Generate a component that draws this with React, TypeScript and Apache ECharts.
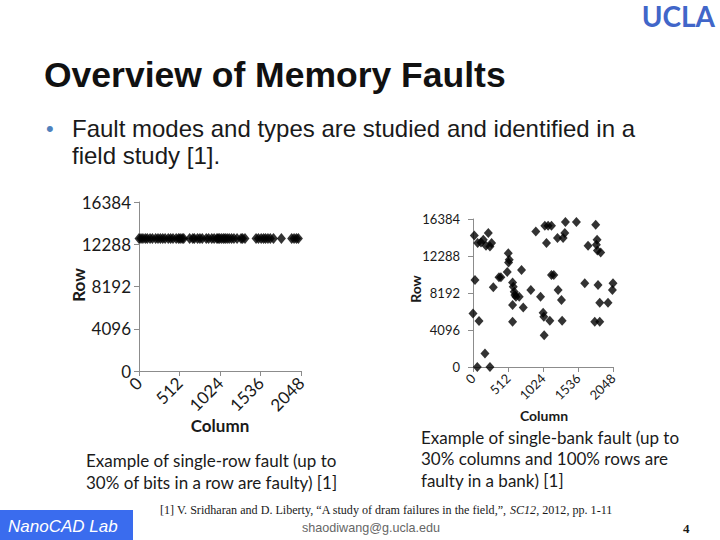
import React, { useEffect, useRef } from "react";
import * as echarts from "echarts";

// Single-row fault: column indices of faulty bits, all on one row
const rowFaultRow = 12850;
const rowFaultCols = [
  0, 25, 50, 80, 105, 140, 170, 210, 240, 270, 300, 330, 370, 400, 430, 470, 500, 520, 545, 565,
  640, 680, 700, 740, 770, 800, 850, 880, 920, 950, 985, 1000, 1020, 1045, 1070, 1090, 1115, 1140,
  1170, 1200, 1240, 1290, 1310, 1340,
  1480, 1510, 1545, 1575, 1600, 1630, 1660, 1700,
  1800,
  1930, 1960, 1990, 2015,
];

// Single-bank fault: scattered faulty bits
const bankFaultCols = [
  19, 68, 117, 151, 190, 224, 248, 272, 29, 0, 88, 175, 63, 248, 297, 380, 408, 501, 516, 530,
  520, 579, 589, 603, 613, 628, 579, 579, 676, 710, 735, 846, 919, 988, 1026, 1036, 1041, 1075,
  1051, 1099, 1148, 1124, 1148, 1182, 1236, 1245, 1294, 1304, 1318, 1343, 1352, 1513, 1635, 1683,
  1781, 1795, 1815, 1805, 1820, 1829, 1854, 1854, 1868, 1975, 2039, 2048,
];
const bankFaultRows = [
  14570, 13716, 13790, 14087, 13420, 14828, 13345, 13716, 9638, 5931, 5079, 1483, 0, 0, 8823,
  9935, 9935, 10528, 12604, 11862, 11566, 9342, 8897, 8341, 7970, 7785, 6858, 5005, 7785, 10750,
  6598, 8526, 15013, 7785, 6005, 5561, 3522, 13716, 15643, 15643, 15643, 5116, 10194, 10194,
  14272, 8526, 7414, 5116, 14272, 14828, 16051, 16051, 9268, 13420, 5005, 15755, 14087, 13531,
  12900, 9082, 7118, 5005, 12678, 7118, 8526, 9268,
];

const colTicks = [0, 512, 1024, 1536, 2048];
const rowTicks = [0, 4096, 8192, 12288, 16384];

const titleText = "Overview of Memory Faults";
const bulletLines = ["Fault modes and types are studied and identified in a", "field study [1]."];
const leftCaption = ["Example of single-row fault (up to", "30% of bits in a row are faulty) [1]"];
const rightCaption = [
  "Example of single-bank fault (up to",
  "30% columns and 100% rows are",
  "faulty in a bank) [1]",
];

const SANS = "Lato, 'Noto Sans', sans-serif";
const ARIAL = "'Liberation Sans', Arial, sans-serif";

function axisPair(gridIndex: number, fontSize: number, xMargin: number, yMargin: number) {
  const common = {
    gridIndex,
    axisLine: { show: true, lineStyle: { color: "#8c8c8c", width: 1 } },
    axisTick: { show: true, length: 5, lineStyle: { color: "#8c8c8c" } },
    splitLine: { show: false },
  };
  return {
    x: {
      ...common,
      type: "value",
      min: 0,
      max: 2048,
      interval: 512,
      axisLabel: {
        rotate: 45,
        fontSize,
        fontFamily: SANS,
        color: "#1a1a1a",
        margin: xMargin,
        formatter: (v: number) => (colTicks.includes(v) ? String(v) : ""),
      },
    },
    y: {
      ...common,
      type: "value",
      min: 0,
      max: 16384,
      interval: 4096,
      axisLabel: {
        fontSize,
        fontFamily: SANS,
        color: "#1a1a1a",
        margin: yMargin,
        formatter: (v: number) => (rowTicks.includes(v) ? String(v) : ""),
      },
    },
  };
}

export default function App() {
  const ref = useRef<HTMLDivElement>(null);

  useEffect(() => {
    document.body.style.margin = "0";
    if (!ref.current) return;
    const chart = echarts.init(ref.current, null, { renderer: "svg" });

    const a0 = axisPair(0, 17, 9, 8);
    const a1 = axisPair(1, 13, 9, 13);

    const rowData = rowFaultCols.map((c) => [c, rowFaultRow]);
    const bankData = bankFaultCols.map((c, i) => [c, bankFaultRows[i]]);

    const txt = (
      x: number,
      y: number,
      text: string,
      fontSize: number,
      extra: any = {},
      el: any = {}
    ) => ({
      type: "text",
      x,
      y,
      silent: true,
      ...el,
      style: {
        text,
        fontSize,
        fontFamily: SANS,
        fill: "#1a1a1a",
        textAlign: "left",
        textVerticalAlign: "middle",
        ...extra,
      },
    });

    const graphics: any[] = [
      txt(715, 16, "UCLA", 28, { textAlign: "right", fontWeight: "bold", fill: "#4166c9" }),
      txt(44, 75, titleText, 35.5, { fontFamily: ARIAL, fontWeight: "bold", fill: "#111111" }),
      txt(46, 128, "•", 22, { fontFamily: ARIAL, fill: "#4f81bd" }),
      txt(72, 128, bulletLines[0], 24, { fontFamily: ARIAL, fill: "#1a1a1a" }),
      txt(72, 155, bulletLines[1], 24, { fontFamily: ARIAL, fill: "#1a1a1a" }),
      // axis names, left chart
      txt(220, 425, "Column", 17, { textAlign: "center", fontWeight: "bold" }),
      txt(78, 285, "Row", 17, { textAlign: "center", fontWeight: "bold" }, { rotation: Math.PI / 2 }),
      // axis names, right chart
      txt(544, 415, "Column", 14, { textAlign: "center", fontWeight: "bold" }),
      txt(415, 289, "Row", 14, { textAlign: "center", fontWeight: "bold" }, { rotation: Math.PI / 2 }),
      // captions
      txt(86, 460, leftCaption[0], 17),
      txt(86, 482, leftCaption[1], 17),
      txt(421, 437, rightCaption[0], 17),
      txt(421, 458, rightCaption[1], 17),
      txt(421, 480, rightCaption[2], 17),
      // footer
      {
        type: "rect",
        silent: true,
        shape: { x: 0, y: 510, width: 133, height: 30 },
        style: { fill: "#3a6cee" },
      },
      txt(8, 526, "NanoCAD Lab", 17, { fontFamily: ARIAL, fontStyle: "italic", fill: "#ffffff" }),
      {
        type: "text",
        x: 160,
        y: 510,
        silent: true,
        style: {
          text:
            "{n|[1] V. Sridharan and D. Liberty, “A study of dram failures in the field,”, }{i|SC12}{n|, 2012, pp. 1-11}",
          textVerticalAlign: "middle",
          rich: {
            n: { fontFamily: "'Liberation Serif', serif", fontSize: 12.1, fill: "#1a1a1a" },
            i: {
              fontFamily: "'Liberation Serif', serif",
              fontSize: 12.1,
              fontStyle: "italic",
              fill: "#1a1a1a",
            },
          },
        },
      },
      txt(302, 528, "shaodiwang@g.ucla.edu", 12.6, { fontFamily: ARIAL, fill: "#666666" }),
      txt(683, 528, "4", 13, {
        fontFamily: "'Liberation Serif', serif",
        fontWeight: "bold",
        fill: "#1a1a1a",
      }),
    ];

    chart.setOption({
      animation: false,
      backgroundColor: "#ffffff",
      grid: [
        { left: 139, top: 202, width: 162, height: 169, containLabel: false },
        { left: 473, top: 219, width: 140, height: 148, containLabel: false },
      ],
      xAxis: [a0.x, a1.x],
      yAxis: [a0.y, a1.y],
      series: [
        {
          type: "scatter",
          xAxisIndex: 0,
          yAxisIndex: 0,
          data: rowData,
          symbol: "diamond",
          symbolSize: [9, 11],
          itemStyle: { color: "#000000" },
          clip: false,
        },
        {
          type: "scatter",
          xAxisIndex: 1,
          yAxisIndex: 1,
          data: bankData,
          symbol: "diamond",
          symbolSize: [9, 10],
          itemStyle: { color: "#000000" },
          clip: false,
        },
      ],
      graphic: graphics,
    });

    return () => chart.dispose();
  }, []);

  return (
    <div
      ref={ref}
      style={{ position: "absolute", left: 0, top: 0, width: 720, height: 540, background: "#fff" }}
    />
  );
}
